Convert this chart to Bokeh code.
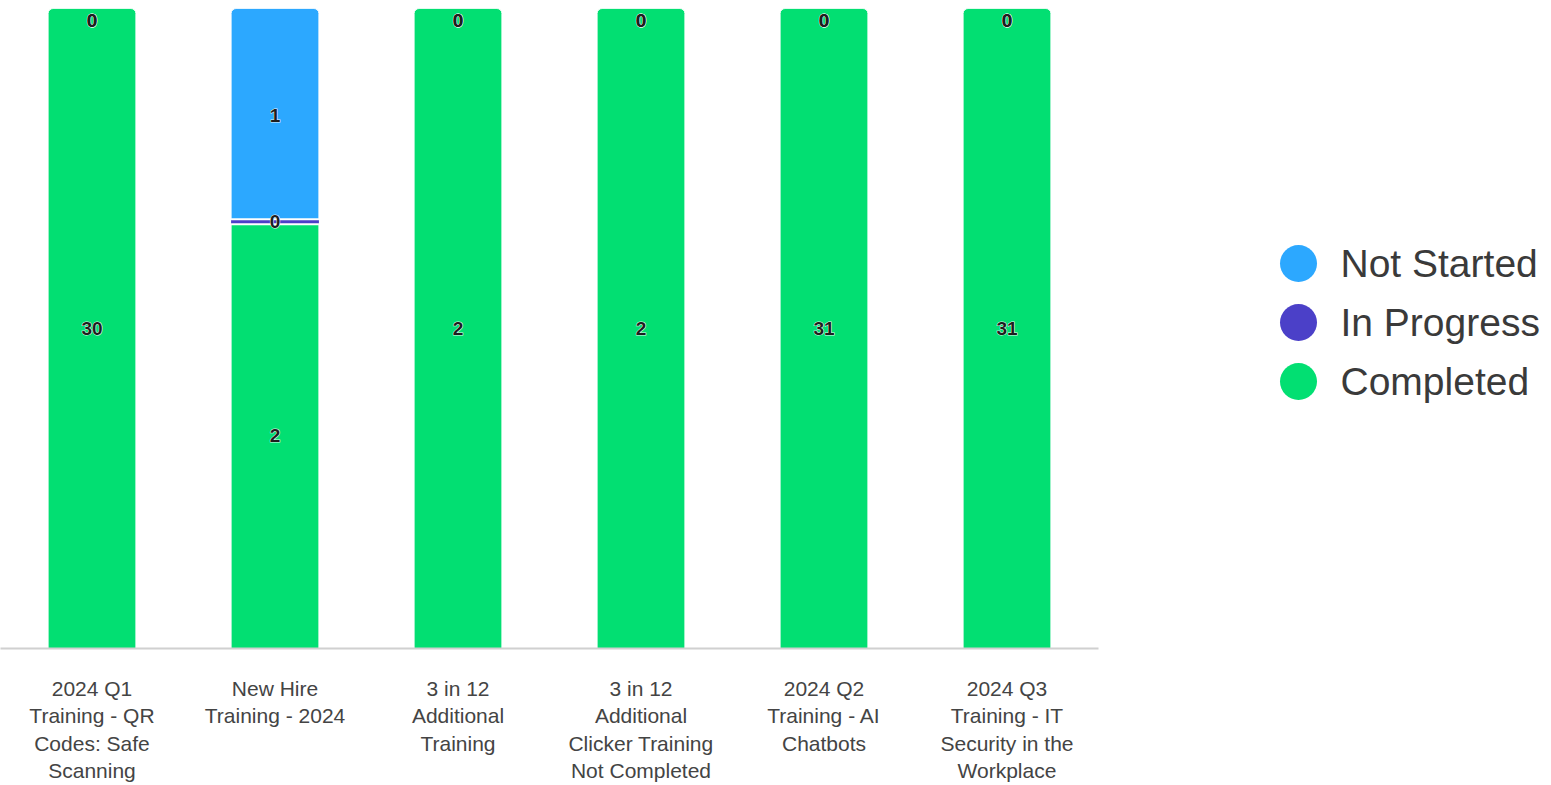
from bokeh.plotting import figure
from bokeh.models import ColumnDataSource, FactorRange, Range1d
from bokeh.transform import dodge
from bokeh.layouts import row
from bokeh.core.properties import value
from bokeh.embed import file_html
from bokeh.resources import INLINE

tick_labels = [
    "2024 Q1\nTraining - QR\nCodes: Safe\nScanning",
    "New Hire\nTraining - 2024",
    "3 in 12\nAdditional\nTraining",
    "3 in 12\nAdditional\nClicker Training\nNot Completed",
    "2024 Q2\nTraining - AI\nChatbots",
    "2024 Q3\nTraining - IT\nSecurity in the\nWorkplace",
]
series = ["Completed", "In Progress", "Not Started"]  # stacked bottom -> top
completed = [30, 2, 2, 2, 31, 31]
in_progress = [0, 0, 0, 0, 0, 0]
not_started = [0, 1, 0, 0, 0, 0]
series_colors = ["#02DF72", "#4B40C8", "#2CA8FF"]
legend_order = ["Not Started", "In Progress", "Completed"]

categories = tick_labels
values = {"Completed": completed, "In Progress": in_progress, "Not Started": not_started}
color_of = dict(zip(series, series_colors))

FONT = "Liberation Sans"
BAR_W = 0.48

seg = dict(x=[], bottom=[], top=[], color=[])
top_seg = dict(x=[], bottom=[], top=[], color=[])
zero_seg = dict(x=[], y=[], color=[])
labels = dict(x=[], y=[], text=[], yoff=[])

for i, cat in enumerate(categories):
    total = sum(values[s][i] for s in series)
    nz = [j for j, s in enumerate(series) if values[s][i] > 0]
    last_nz = max(nz) if nz else -1
    cum = 0
    for j, s in enumerate(series):
        v = values[s][i]
        b = cum / total
        cum += v
        t = cum / total
        if v > 0:
            d = top_seg if j == last_nz else seg
            d["x"].append(cat)
            d["bottom"].append(b)
            d["top"].append(t)
            d["color"].append(color_of[s])
        elif t < 0.999:
            zero_seg["x"].append(cat)
            zero_seg["y"].append(t)
            zero_seg["color"].append(color_of[s])
        mid = (b + t) / 2
        labels["x"].append(cat)
        labels["y"].append(mid)
        labels["text"].append(str(v))
        labels["yoff"].append(12 if mid > 0.995 else 0)

TOP, BOTTOM = 8, 137

p = figure(
    x_range=FactorRange(*categories, range_padding=0),
    y_range=Range1d(0, 1),
    width=1100, height=785,
    output_backend="svg", toolbar_location=None,
    min_border_left=0, min_border_right=2, min_border_top=TOP, min_border_bottom=BOTTOM,
)
p.vbar(x="x", bottom="bottom", top="top", width=BAR_W, fill_color="color",
       line_color="white", line_width=1, source=ColumnDataSource(seg))
p.vbar(x="x", bottom="bottom", top="top", width=BAR_W, fill_color="color",
       line_color="white", line_width=1, border_radius=(5, 5, 0, 0),
       source=ColumnDataSource(top_seg))
zsrc = ColumnDataSource(zero_seg)
p.segment(x0=dodge("x", -BAR_W / 2, range=p.x_range), x1=dodge("x", BAR_W / 2, range=p.x_range),
          y0="y", y1="y", line_color="white", line_width=7, line_cap="butt", source=zsrc)
p.segment(x0=dodge("x", -BAR_W / 2, range=p.x_range), x1=dodge("x", BAR_W / 2, range=p.x_range),
          y0="y", y1="y", line_color="color", line_width=3, line_cap="butt", source=zsrc)
lab_src = ColumnDataSource(labels)
# white halo underneath, then dark label text
p.text(x="x", y="y", text="text", y_offset="yoff", source=lab_src,
       text_align="center", text_baseline="middle", text_font=value(FONT),
       text_font_style="bold", text_font_size="19px", text_color="white",
       text_outline_color="white", text_alpha=0.85)
p.text(x="x", y="y", text="text", y_offset="yoff", source=lab_src,
       text_align="center", text_baseline="middle", text_font=value(FONT),
       text_font_style="bold", text_font_size="19px", text_color="#1e1e1e")

p.yaxis.visible = False
p.xgrid.grid_line_color = None
p.ygrid.grid_line_color = None
p.outline_line_color = None
xa = p.xaxis[0]
xa.axis_line_color = "#d0d0d0"
xa.axis_line_width = 2
xa.major_tick_line_color = None
xa.minor_tick_line_color = None
xa.major_tick_out = 0
xa.major_tick_in = 0
xa.major_label_standoff = 28
xa.major_label_text_font = FONT
xa.major_label_text_font_size = "21px"
xa.major_label_text_color = "#444444"
xa.major_label_text_line_height = 1.2

# legend panel (frame aligned with the main plot's frame: 640 px tall, rows 59 px apart)
ROW = 59.0
FIRST_ROW_PX = 255.0
frame_h = 785 - TOP - BOTTOM
y_top = -FIRST_ROW_PX / ROW
y_bot = y_top + frame_h / ROW
lg = figure(
    x_range=Range1d(0, 451), y_range=Range1d(y_bot, y_top),
    width=451, height=785, output_backend="svg", toolbar_location=None,
    min_border_left=0, min_border_right=0, min_border_top=TOP, min_border_bottom=BOTTOM,
)
idx = list(range(len(legend_order)))
lsrc = ColumnDataSource(dict(
    name=legend_order, y=idx,
    color=[color_of[s] for s in legend_order],
    cx=[198] * len(idx), tx=[240] * len(idx),
))
lg.scatter(x="cx", y="y", size=37, marker="circle", fill_color="color", line_color=None, source=lsrc)
lg.text(x="tx", y="y", text="name", source=lsrc, text_baseline="middle", text_align="left",
        text_font=value(FONT), text_font_size="39px", text_color="#3a3a3a")
lg.axis.visible = False
lg.grid.grid_line_color = None
lg.outline_line_color = None

layout = row(p, lg, spacing=0)
open("out.html", "w").write(file_html(layout, INLINE))
